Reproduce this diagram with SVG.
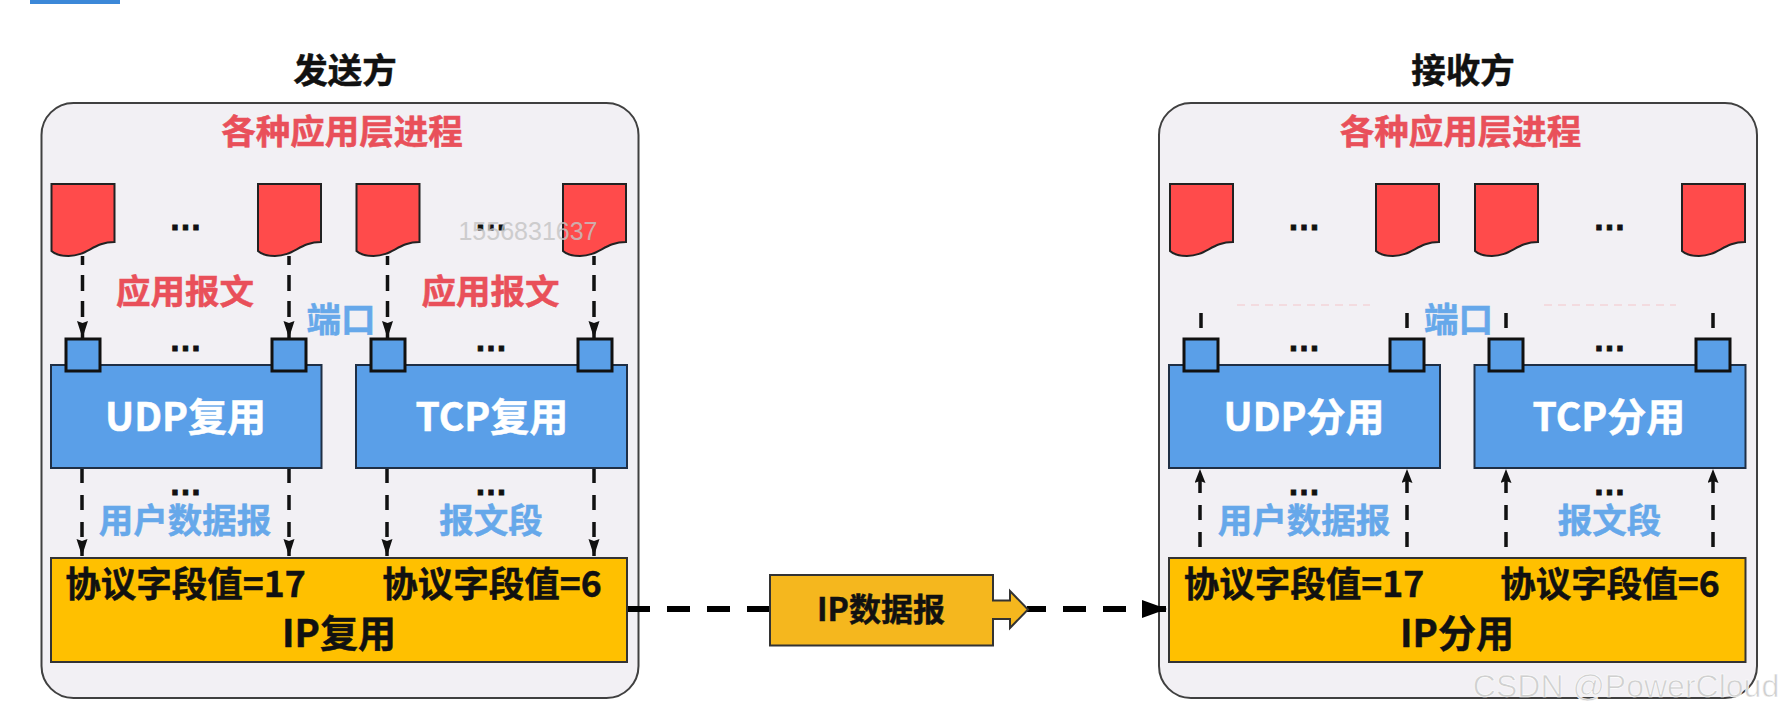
<svg xmlns="http://www.w3.org/2000/svg" width="1783" height="717" viewBox="0 0 1783 717">
<style>
text{font-family:"Noto Sans CJK SC","Liberation Sans",sans-serif;font-weight:700;text-anchor:middle}
.panel{fill:#f2f0f4;stroke:#404040;stroke-width:2}
.doc{fill:#ff4b4b;stroke:#222;stroke-width:2}
.port{fill:#5a9fe8;stroke:#111;stroke-width:3}
.box{fill:#5a9fe8;stroke:#1f2f45;stroke-width:2}
.ip{fill:#ffc000;stroke:#333;stroke-width:2}
.title{font-size:34.500px;fill:#111;stroke:#111;stroke-width:.5}
.red{font-size:34.500px;fill:#e9505a;stroke:#e9505a;stroke-width:.5}
.blue{font-size:34.500px;fill:#66a8ea;stroke:#66a8ea;stroke-width:.5}
.white{font-size:39px;fill:#fff;stroke:#fff;stroke-width:.5}
.blk{font-size:35.500px;fill:#111;stroke:#111;stroke-width:.5}
.ipt{font-size:38px}
.dots{font-family:"Liberation Sans",sans-serif;font-size:33px;fill:#111;stroke:#111;stroke-width:.8}
.wm{font-family:"Liberation Sans",sans-serif;font-weight:400;fill:#c4c4c4}
.dn{stroke:#111;stroke-width:3.500;fill:none;stroke-dasharray:16 10;stroke-dashoffset:7;marker-end:url(#hd)}
.dl{stroke:#111;stroke-width:3.500;fill:none;stroke-dasharray:15 12;marker-end:url(#hd)}
.up{stroke:#111;stroke-width:3.500;fill:none;stroke-dasharray:15 12;marker-end:url(#hu)}
.tick{stroke:#111;stroke-width:3.500}
.big{stroke:#000;stroke-width:6;fill:none;stroke-dasharray:23 17}
.ghost{stroke:#f3d3d8;stroke-width:1.500;stroke-dasharray:8 6;fill:none}
</style>
<defs>
<marker id="hd" markerUnits="userSpaceOnUse" markerWidth="18" markerHeight="12" refX="17" refY="6" orient="auto"><path d="M0,0.500L17,6L0,11.500L2,6Z" fill="#111"/></marker>
<marker id="hu" markerUnits="userSpaceOnUse" markerWidth="15" markerHeight="12" refX="14" refY="5.500" orient="auto"><path d="M0,0L14,5.500L0,11L2,5.500Z" fill="#111"/></marker>
<marker id="hb" markerUnits="userSpaceOnUse" markerWidth="26" markerHeight="18" refX="25" refY="9" orient="auto"><path d="M0,0L25,9L0,18Z" fill="#000"/></marker>
<path id="d" d="M0,0H63V58C42,58 36,72 17,72C9,72 3,70 0,67Z"/>
</defs>
<rect width="1783" height="717" fill="#fff"/>
<rect id="corner-bar" x="30" y="0" width="90" height="4" fill="#3c88d8"/>

<g id="sender">
<text class="title" x="345" y="83">发送方</text>
<rect class="panel" x="41.500" y="103" width="597" height="595" rx="32"/>
<text class="red" x="342" y="144">各种应用层进程</text>
</g>
<g id="receiver">
<text class="title" x="1463" y="83">接收方</text>
<rect class="panel" x="1159" y="103" width="598" height="595" rx="32"/>
<text class="red" x="1460.500" y="144">各种应用层进程</text>
</g>

<g id="connectors">
<path class="dn" d="M82.500 256V338"/><path class="dn" d="M289 256V338"/><path class="dn" d="M387.500 256V338"/><path class="dn" d="M594 256V338"/>
<path class="dl" d="M82 468V556"/><path class="dl" d="M289 468V556"/><path class="dl" d="M387 468V556"/><path class="dl" d="M594 468V556"/>
<path class="tick" d="M1201 313V328M1407 313V328M1506 313V328M1713 313V328"/>
<path class="ghost" d="M1237 305H1370M1544 305H1676"/>
<path class="up" d="M1200 547V469"/><path class="up" d="M1407 547V469"/><path class="up" d="M1506 547V469"/><path class="up" d="M1713 547V469"/>
<path class="big" d="M627 609H769"/>
<path class="big" style="stroke-dashoffset:4;marker-end:url(#hb)" d="M1027 609H1167"/>
</g>

<g id="s-doc-1"><use href="#d" class="doc" x="51.500" y="184"/></g>
<g id="s-doc-2"><use href="#d" class="doc" x="258" y="184"/></g>
<g id="s-doc-3"><use href="#d" class="doc" x="356.500" y="184"/></g>
<g id="s-doc-4"><use href="#d" class="doc" x="563" y="184"/></g>
<g id="r-doc-1"><use href="#d" class="doc" x="1170" y="184"/></g>
<g id="r-doc-2"><use href="#d" class="doc" x="1376" y="184"/></g>
<g id="r-doc-3"><use href="#d" class="doc" x="1475" y="184"/></g>
<g id="r-doc-4"><use href="#d" class="doc" x="1682" y="184"/></g>

<g id="s-dots">
<text class="dots" x="185.500" y="230">…</text><text class="dots" x="491" y="230">…</text>
<text class="dots" x="185.500" y="351">…</text><text class="dots" x="491" y="351">…</text>
<text class="dots" x="185.500" y="495">…</text><text class="dots" x="491" y="495">…</text>
</g>
<g id="r-dots">
<text class="dots" x="1304" y="230">…</text><text class="dots" x="1609.500" y="230">…</text>
<text class="dots" x="1304" y="351">…</text><text class="dots" x="1609.500" y="351">…</text>
<text class="dots" x="1304" y="495">…</text><text class="dots" x="1609.500" y="495">…</text>
</g>

<g id="s-labels">
<text class="red" x="185" y="304">应用报文</text>
<text class="red" x="490.500" y="304">应用报文</text>
<text class="blue" x="341" y="332">端口</text>
<text class="blue" x="185" y="533">用户数据报</text>
<text class="blue" x="491" y="533">报文段</text>
</g>
<g id="r-labels">
<text class="blue" x="1458.500" y="332">端口</text>
<text class="blue" x="1304" y="533">用户数据报</text>
<text class="blue" x="1609.500" y="533">报文段</text>
</g>

<g id="udp-mux"><rect class="box" x="51" y="365" width="270.500" height="103"/><text class="white" x="185.500" y="431">UDP复用</text></g>
<g id="tcp-mux"><rect class="box" x="356" y="365" width="271" height="103"/><text class="white" x="492" y="431">TCP复用</text></g>
<g id="udp-demux"><rect class="box" x="1169" y="365" width="271" height="103"/><text class="white" x="1304" y="431">UDP分用</text></g>
<g id="tcp-demux"><rect class="box" x="1474.500" y="365" width="271" height="103"/><text class="white" x="1609" y="431">TCP分用</text></g>

<g id="s-port-1"><rect class="port" x="66" y="339" width="34" height="32"/></g>
<g id="s-port-2"><rect class="port" x="272" y="339" width="34" height="32"/></g>
<g id="s-port-3"><rect class="port" x="371" y="339" width="34" height="32"/></g>
<g id="s-port-4"><rect class="port" x="578" y="339" width="34" height="32"/></g>
<g id="r-port-1"><rect class="port" x="1184" y="339" width="34" height="32"/></g>
<g id="r-port-2"><rect class="port" x="1390" y="339" width="34" height="32"/></g>
<g id="r-port-3"><rect class="port" x="1489" y="339" width="34" height="32"/></g>
<g id="r-port-4"><rect class="port" x="1696" y="339" width="34" height="32"/></g>

<g id="ip-mux">
<rect class="ip" x="51" y="558" width="576" height="104"/>
<text class="blk" x="185.500" y="597">协议字段值=17</text>
<text class="blk" x="492" y="597">协议字段值=6</text>
<text class="blk ipt" x="339" y="647">IP复用</text>
</g>
<g id="ip-demux">
<rect class="ip" x="1169" y="558" width="576.500" height="104"/>
<text class="blk" x="1304" y="597">协议字段值=17</text>
<text class="blk" x="1610" y="597">协议字段值=6</text>
<text class="blk ipt" x="1457" y="647">IP分用</text>
</g>

<g id="ip-datagram">
<path d="M770 575H993V600.500H1010V591L1028 609.500L1010 628V619H993V645.500H770Z" fill="#f5b71e" stroke="#333" stroke-width="2"/>
<text class="blk" style="font-size:32px" x="881" y="621">IP数据报</text>
</g>

<text class="wm" x="528" y="240" font-size="25" opacity="0.8">1556831637</text>
<text class="wm" x="1626" y="697" font-size="32" style="fill:#d0d0d0;stroke:#fff;stroke-width:.6">CSDN @PowerCloud</text>
</svg>
